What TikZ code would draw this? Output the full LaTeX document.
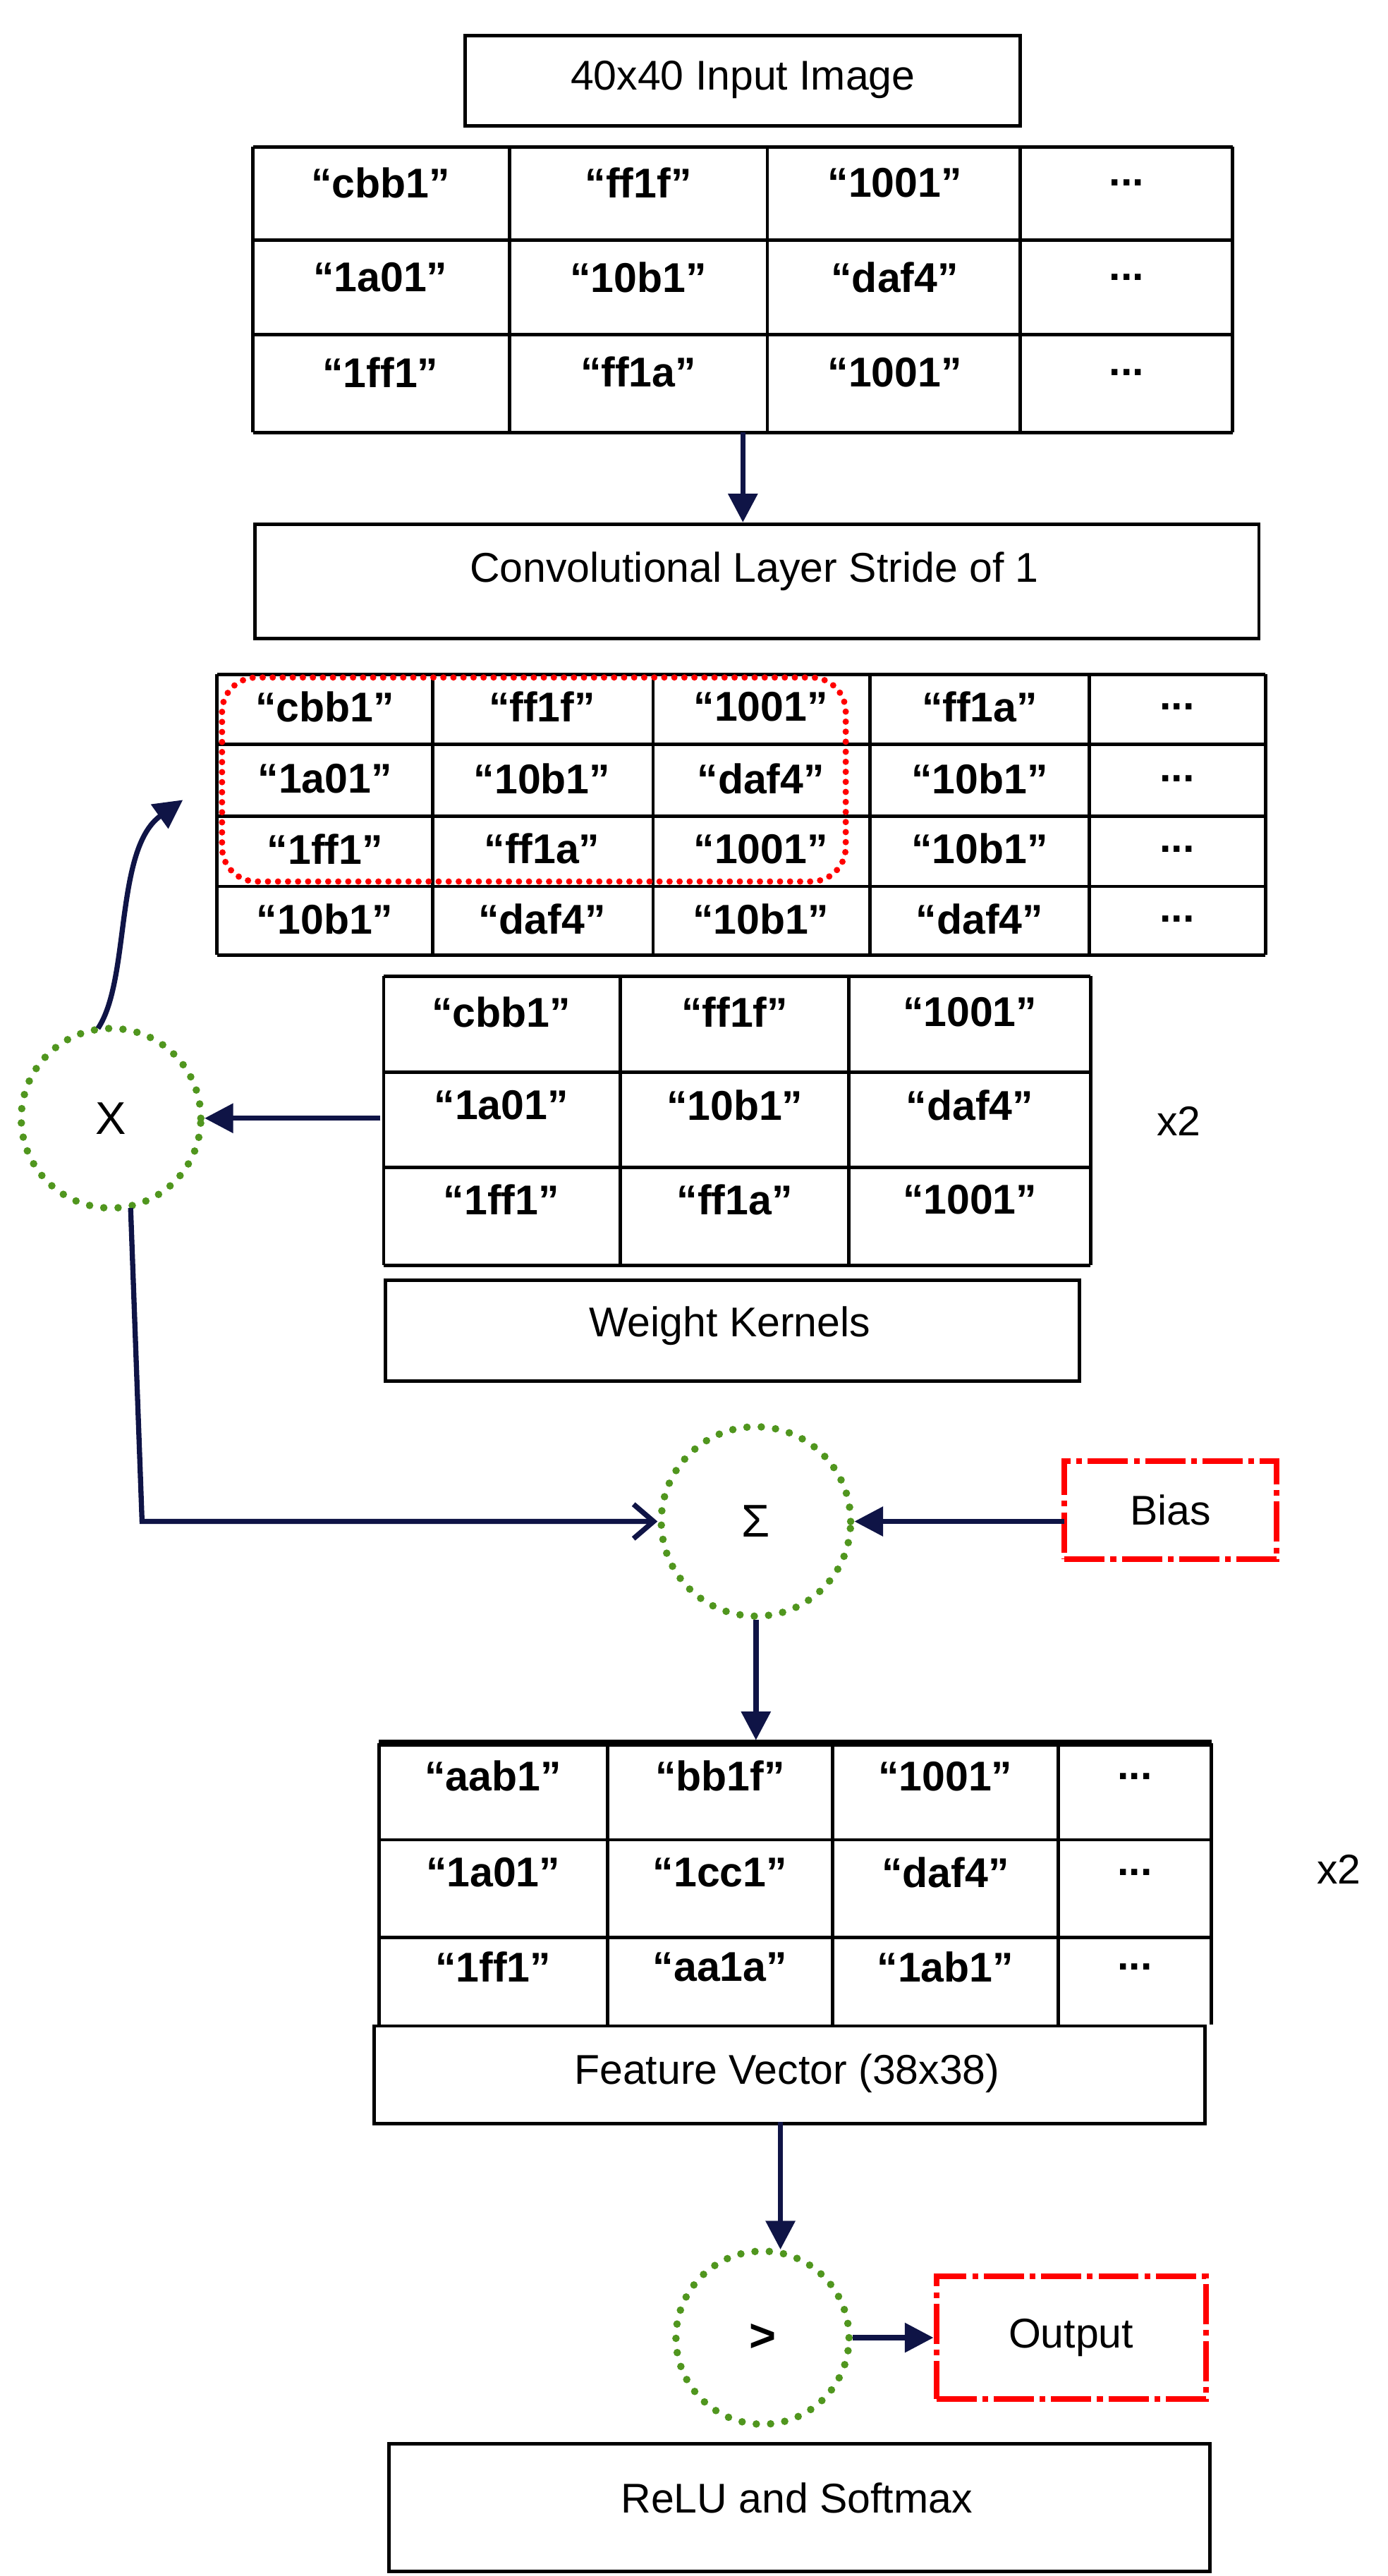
\documentclass[tikz,border=0pt]{standalone}
\usepackage{fontspec}
\setmainfont{Liberation Sans}
\usetikzlibrary{arrows.meta}
\definecolor{navy}{RGB}{15,20,70}
\definecolor{dgreen}{RGB}{80,150,30}
\newcommand\mydots{...}
\begin{document}
\begin{tikzpicture}[x=0.02cm,y=-0.02cm,
  box/.style={draw,line width=1.2pt},
  lbl/.style={font=\fontsize{14.5}{16}\selectfont},
  cell/.style={font=\fontsize{14.5}{16}\selectfont\bfseries},
  op/.style={circle,draw=dgreen,line width=2.6pt,dash pattern=on 0pt off 5pt,line cap=round,font=\fontsize{16}{18}\selectfont},
  redbox/.style={draw=red,line width=2pt,dash pattern=on 14pt off 2pt on 2pt off 2pt},
  arr/.style={navy,line width=1.8pt,-{Triangle[length=10pt,width=10pt]}},
  grid/.style={line width=1.2pt}]
\useasboundingbox (0,0) rectangle (850,1578);
% input image box
\draw[box] (285,22) rectangle (625,77);
\node[lbl] (in) at (455,49) {40x40 Input Image};
% table 1
\foreach \x in {155,312,470,625,755} \draw[grid] (\x,90) -- (\x,265);
\foreach \y in {90,147,205,265} \draw[grid] (155,\y) -- (755,\y);
\foreach \t/\cx [count=\i] in {“cbb1”/233,“ff1f”/391,“1001”/548,\mydots/690} \node[cell] (a1\i) at (\cx,112) {\t};
\foreach \t/\cx [count=\i] in {“1a01”/233,“10b1”/391,“daf4”/548,\mydots/690} \node[cell] (a2\i) at (\cx,170) {\t};
\foreach \t/\cx [count=\i] in {“1ff1”/233,“ff1a”/391,“1001”/548,\mydots/690} \node[cell] (a3\i) at (\cx,228) {\t};
\coordinate (t1b) at (455,265);
% conv box
\node[box,minimum width=615*0.02cm,minimum height=70*0.02cm,anchor=north west,inner sep=0] (conv) at (155,320) {};
\node[lbl] (convt) at (462,350) {Convolutional Layer Stride of 1};
\coordinate (convtop) at (455,320);
\draw[arr] (t1b) -- (convtop);
% table 2
\foreach \x in {133,265,400,533,667,775} \draw[grid] (\x,413) -- (\x,585);
\foreach \y in {413,456,500,543,585} \draw[grid] (133,\y) -- (775,\y);
\foreach \t/\cx [count=\i] in {“cbb1”/199,“ff1f”/332,“1001”/466,“ff1a”/600,\mydots/721} \node[cell] (b1\i) at (\cx,433) {\t};
\foreach \t/\cx [count=\i] in {“1a01”/199,“10b1”/332,“daf4”/466,“10b1”/600,\mydots/721} \node[cell] (b2\i) at (\cx,477) {\t};
\foreach \t/\cx [count=\i] in {“1ff1”/199,“ff1a”/332,“1001”/466,“10b1”/600,\mydots/721} \node[cell] (b3\i) at (\cx,520) {\t};
\foreach \t/\cx [count=\i] in {“10b1”/199,“daf4”/332,“10b1”/466,“daf4”/600,\mydots/721} \node[cell] (b4\i) at (\cx,563) {\t};
\draw[red,line width=2.2pt,dash pattern=on 0pt off 3.5pt,line cap=round,rounded corners=12pt] (136,415) rectangle (518,540);
\coordinate (t2in) at (112,490);
% kernel table
\foreach \x in {235,380,520,668} \draw[grid] (\x,598) -- (\x,775);
\foreach \y in {598,657,715,775} \draw[grid] (235,\y) -- (668,\y);
\foreach \t/\cx [count=\i] in {“cbb1”/307,“ff1f”/450,“1001”/594} \node[cell] (k1\i) at (\cx,620) {\t};
\foreach \t/\cx [count=\i] in {“1a01”/307,“10b1”/450,“daf4”/594} \node[cell] (k2\i) at (\cx,677) {\t};
\foreach \t/\cx [count=\i] in {“1ff1”/307,“ff1a”/450,“1001”/594} \node[cell] (k3\i) at (\cx,735) {\t};
\coordinate (kl) at (233,685);
\node[lbl] (x2a) at (722,687) {x2};
\node[box,minimum width=425*0.02cm,minimum height=62*0.02cm,anchor=north west,inner sep=0] (wk) at (235,783) {};
\node[lbl] (wkt) at (447,812) {Weight Kernels};
% X circle
\node[op,minimum size=110*0.02cm] (mul) at (68,685) {X};
\draw[arr] (kl) -- (mul.east);
\draw[navy,line width=1.8pt,-{Triangle[length=10pt,width=10pt]}] (60,630) .. controls (80,600) and (70,520) .. (t2in);
% sum
\node[op,minimum size=116*0.02cm] (sum) at (463,932) {Σ};
\coordinate (mulb) at (80,740);
\coordinate (bend) at (87,932);
\draw[navy,line width=1.8pt,-{Straight Barb[length=7pt,width=12pt]}] (mulb) -- (bend) -- (sum.west);
\node[redbox,minimum width=130*0.02cm,minimum height=60*0.02cm,lbl] (bias) at (717,925) {Bias};
\coordinate (biasw) at (652,932);
\draw[arr] (biasw) -- (sum.east);
% table 3
\coordinate (t3top) at (463,1066);
\draw[arr] (sum.south) -- (t3top);
\draw[line width=2.5pt] (232,1068) -- (742,1068);
\foreach \x in {232,372,510,648,742} \draw[grid] (\x,1068) -- (\x,1240);
\foreach \y in {1127,1187} \draw[grid] (232,\y) -- (742,\y);
\foreach \t/\cx [count=\i] in {“aab1”/302,“bb1f”/441,“1001”/579,\mydots/695} \node[cell] (c1\i) at (\cx,1088) {\t};
\foreach \t/\cx [count=\i] in {“1a01”/302,“1cc1”/441,“daf4”/579,\mydots/695} \node[cell] (c2\i) at (\cx,1147) {\t};
\foreach \t/\cx [count=\i] in {“1ff1”/302,“aa1a”/441,“1ab1”/579,\mydots/695} \node[cell] (c3\i) at (\cx,1205) {\t};
\node[lbl] (x2b) at (820,1145) {x2};
\node[box,minimum width=509*0.02cm,minimum height=60*0.02cm,anchor=north west,inner sep=0] (fv) at (228,1240) {};
\node[lbl] (fvt) at (482,1270) {Feature Vector (38x38)};
% relu
\node[op,minimum size=106*0.02cm] (gt) at (467,1432) {\textbf{>}};
\coordinate (fvb) at (478,1300);
\coordinate (gtt) at (478,1378);
\draw[arr] (fvb) -- (gtt);
\node[redbox,minimum width=165*0.02cm,minimum height=75*0.02cm,lbl] (out) at (656,1432) {Output};
\draw[arr] (gt.east) -- (out.west);
\node[box,minimum width=503*0.02cm,minimum height=78*0.02cm,anchor=north west,inner sep=0] (relu) at (237,1496) {};
\node[lbl] (relut) at (488,1530) {ReLU and Softmax};
\end{tikzpicture}
\end{document}
